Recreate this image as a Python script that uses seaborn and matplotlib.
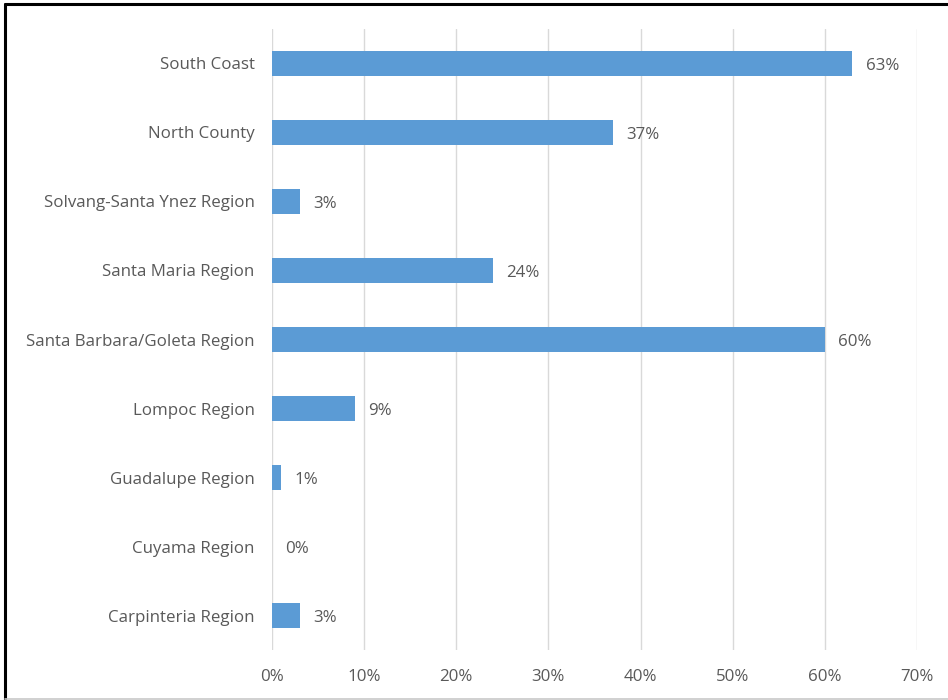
import matplotlib
matplotlib.use("Agg")
import matplotlib.pyplot as plt
from matplotlib.lines import Line2D
from matplotlib.ticker import FuncFormatter, MultipleLocator
import seaborn as sns
import pandas as pd

regions = [
    "South Coast",
    "North County",
    "Solvang-Santa Ynez Region",
    "Santa Maria Region",
    "Santa Barbara/Goleta Region",
    "Lompoc Region",
    "Guadalupe Region",
    "Cuyama Region",
    "Carpinteria Region",
]
shares = [63, 37, 3, 24, 60, 9, 1, 0, 3]

df = pd.DataFrame({"region": regions, "share": shares})

sns.set_theme(style="white")
plt.rcParams["font.family"] = ["Open Sans", "DejaVu Sans"]

text_color = "#595959"
bar_color = "#5B9BD5"

fig = plt.figure(figsize=(9.48, 7.0), dpi=100)
ax = fig.add_axes([0.2869, 0.0714, 0.6804, 0.8872])

sns.barplot(data=df, x="share", y="region", color=bar_color, width=0.36,
            saturation=1, ax=ax, orient="h", linewidth=0)

ax.set_xlim(0, 70)
ax.xaxis.set_major_locator(MultipleLocator(10))
ax.xaxis.set_major_formatter(FuncFormatter(lambda v, p: f"{v:.0f}%"))
ax.set_xlabel("")
ax.set_ylabel("")
ax.grid(axis="x", color="#D9D9D9", linewidth=1)
ax.set_axisbelow(True)
for s in ax.spines.values():
    s.set_visible(False)
ax.tick_params(axis="both", length=0, labelsize=12.2, colors=text_color)
ax.tick_params(axis="x", pad=14)
ax.tick_params(axis="y", pad=12.5)

for i, v in enumerate(shares):
    ax.annotate(f"{v}%", xy=(v, i), xytext=(9.5, -1.5), textcoords="offset points",
                va="center", ha="left", fontsize=12.2, color=text_color)

# outer frame
fig.add_artist(Line2D([0.0055, 0.0055], [0.0, 0.994], transform=fig.transFigure,
                      color="black", linewidth=2.2))
fig.add_artist(Line2D([0.0055, 1.0], [0.994, 0.994], transform=fig.transFigure,
                      color="black", linewidth=2.2))
fig.add_artist(Line2D([0.0055, 1.0], [0.0015, 0.0015], transform=fig.transFigure,
                      color="#C8C8C8", linewidth=1.2))

fig.savefig("out.png", dpi=100)
